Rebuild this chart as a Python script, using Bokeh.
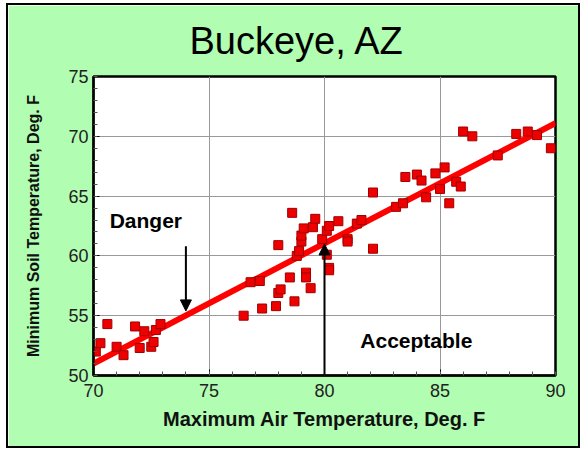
from bokeh.plotting import figure
from bokeh.models import FixedTicker, Arrow, NormalHead, ColumnDataSource, Range1d, InlineStyleSheet
from bokeh.core.properties import value
from bokeh.embed import file_html
from bokeh.resources import INLINE

# ---- data ----
air_temp = [70.1, 70.3, 70.6, 71.0, 71.3, 71.8, 72.0, 72.2, 72.5, 72.6, 72.7, 72.9,
            76.5, 76.8, 77.2, 77.3, 77.9, 78.0, 78.1, 78.0, 78.7, 78.5,
            79.2, 79.2, 79.4, 78.8, 78.9, 79.0, 79.0, 79.1, 79.5, 79.6,
            78.6, 79.9, 80.1, 80.2, 80.1, 80.2, 80.2, 80.6, 81.0, 81.0,
            81.4, 81.6, 82.1, 82.1, 83.1, 83.4, 83.5, 84.0, 84.2, 84.4,
            84.8, 85.0, 85.2, 85.4, 85.7, 85.9, 86.0, 86.4, 87.5, 88.3,
            88.8, 89.2, 89.8]
soil_temp = [52.0, 52.7, 54.3, 52.4, 51.7, 54.1, 52.3, 53.7, 52.4, 52.8, 53.8, 54.3,
             55.0, 57.8, 57.9, 55.6, 55.8, 56.9, 57.2, 60.9, 56.2, 58.2,
             58.6, 58.2, 57.3, 60.0, 60.4, 61.2, 61.7, 62.3, 62.4, 63.1,
             63.6, 61.4, 62.1, 62.5, 60.1, 59.0, 58.8, 62.9, 61.4, 61.2,
             62.7, 63.0, 60.6, 65.3, 64.1, 64.4, 66.6, 66.8, 66.3, 64.9,
             66.9, 65.6, 67.4, 64.4, 66.2, 65.8, 70.4, 70.0, 68.4, 70.2,
             70.4, 70.1, 69.0]
fit_x = [70, 90]
fit_y = [51.0, 71.1]
x_ticks = [70, 75, 80, 85, 90]
y_ticks = [50, 55, 60, 65, 70, 75]
note_text = ["Danger", "Acceptable"]
note_x = [70.7, 81.55]
note_y = [63.0, 52.9]
danger_arrow = dict(x0=74.0, y0=60.8, x1=74.0, y1=55.4)
accept_arrow = dict(x0=80.0, y0=50.0, x1=80.0, y1=61.0)

FONT = "Liberation Sans"
GREEN = "#b1fdb1"

border_css = InlineStyleSheet(css=":host { box-shadow: 0 0 0 2px black; }")

p = figure(width=570, height=441, output_backend="svg", toolbar_location=None,
           x_range=Range1d(70, 90), y_range=Range1d(50, 75),
           min_border_left=85, min_border_right=23, min_border_top=71,
           min_border_bottom=71, title="Buckeye, AZ")
p.margin = (5, 7, 3, 8)
p.stylesheets = [border_css]
p.border_fill_color = GREEN
p.background_fill_color = "white"
p.outline_line_color = "black"
p.outline_line_width = 2.5

p.title.text_font = FONT
p.title.text_font_size = "38px"
p.title.text_font_style = "normal"
p.title.text_color = "black"
p.title.text_line_height = 0.7
p.title.align = "left"
p.title.vertical_align = "top"
p.title.offset = 96
p.title.standoff = 26

for ax, ticks, minors in ((p.xaxis, x_ticks, list(range(70, 91))),
                          (p.yaxis, y_ticks, list(range(50, 76)))):
    ax.ticker = FixedTicker(ticks=ticks, minor_ticks=minors)
    ax.axis_line_color = "black"
    ax.axis_line_width = 2
    ax.major_tick_in = 6
    ax.major_tick_out = 0
    ax.minor_tick_in = 4
    ax.minor_tick_out = 0
    ax.major_tick_line_color = "black"
    ax.minor_tick_line_color = "#555555"
    ax.major_label_text_font = FONT
    ax.major_label_text_font_size = "18px"
    ax.major_label_text_color = "#222222"
    ax.axis_label_text_font = FONT
    ax.axis_label_text_font_style = "bold"
    ax.axis_label_text_color = "#111111"

p.xaxis.axis_label = "Maximum Air Temperature, Deg. F"
p.xaxis.axis_label_text_font_size = "20px"
p.xaxis.major_label_standoff = 8
p.xaxis.axis_label_standoff = 8
p.yaxis.axis_label = "Minimum Soil Temperature, Deg. F"
p.yaxis.axis_label_text_font_size = "16px"
p.yaxis.major_label_standoff = 5
p.yaxis.axis_label_standoff = 23

p.grid.grid_line_color = "#999999"
p.grid.grid_line_width = 1
p.grid.grid_line_alpha = 1

p.line(fit_x, fit_y, line_color="#ff0000", line_width=6)
p.scatter(air_temp, soil_temp, marker="square", size=9,
          fill_color="#ee0000", line_color="#a00000", line_width=1)

notes = ColumnDataSource(dict(x=note_x, y=note_y, t=note_text))
p.text(x="x", y="y", text="t", source=notes, text_font=value(FONT),
       text_font_size="21px", text_font_style="bold", text_color="black",
       text_baseline="middle", text_align="left")

for a in (danger_arrow, accept_arrow):
    p.add_layout(Arrow(end=NormalHead(size=11, fill_color="black", line_color="black"),
                       x_start=a["x0"], y_start=a["y0"], x_end=a["x1"], y_end=a["y1"],
                       line_color="black", line_width=2))

open("out.html", "w").write(file_html(p, INLINE))
